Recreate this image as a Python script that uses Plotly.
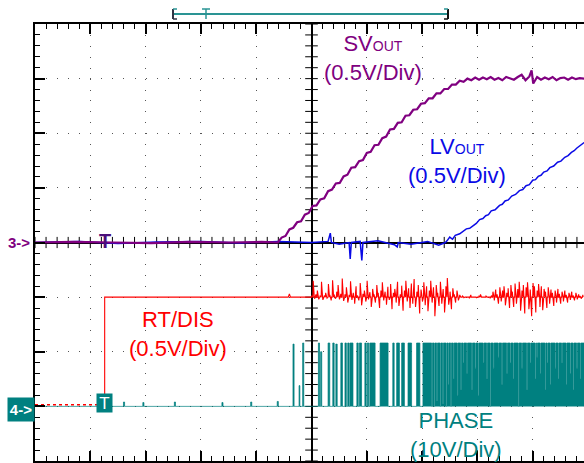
import numpy as np
import plotly.graph_objects as go

# Scope screen in divisions (x: time div, y: vertical div, centre = 0)
trig_t = -3.74

# CH3 - SV_OUT (0.5V/div)
sv_t = [-5.0, -4.3, -3.6, -2.9, -2.2, -1.5, -0.9, -0.61, -0.54, -0.47, -0.40, -0.33, -0.26,
        -0.19, -0.12, -0.05, 0.02, 0.09, 0.16, 0.23, 0.30, 0.37, 0.44, 0.51, 0.58, 0.65,
        0.72, 0.79, 0.86, 0.93, 1.00, 1.07, 1.14, 1.21, 1.28, 1.35, 1.42, 1.49, 1.56, 1.63,
        1.70, 1.77, 1.84, 1.91, 1.98, 2.05, 2.12, 2.19, 2.26, 2.33, 2.40, 2.47, 2.54, 2.61,
        2.68, 2.75, 2.82, 2.89, 2.96, 3.03, 3.10, 3.17, 3.24, 3.31, 3.38, 3.45, 3.52, 3.59,
        3.66, 3.73, 3.80, 3.87, 3.94, 3.98, 4.01, 4.08, 4.15, 4.22, 4.29, 4.36, 4.43, 4.50,
        4.57, 4.64, 4.71, 4.78, 4.85, 4.93]
sv_v = [0.0, 0.01, 0.0, -0.01, 0.01, 0.0, 0.01, 0.0, 0.09, 0.12, 0.24, 0.27, 0.37,
        0.39, 0.51, 0.54, 0.67, 0.68, 0.79, 0.81, 0.94, 0.97, 1.08, 1.09, 1.21, 1.24,
        1.37, 1.38, 1.49, 1.51, 1.64, 1.66, 1.78, 1.79, 1.91, 1.94, 2.07, 2.08, 2.19, 2.20,
        2.32, 2.33, 2.43, 2.44, 2.54, 2.55, 2.64, 2.64, 2.73, 2.73, 2.81, 2.81, 2.89, 2.89,
        2.96, 2.94, 3.00, 2.97, 3.02, 2.98, 3.02, 2.99, 3.03, 2.98, 3.01, 2.97, 3.03, 3.00,
        2.98, 3.03, 3.07, 2.97, 3.04, 3.15, 2.91, 3.03, 2.98, 3.02, 2.99, 3.03, 2.97, 3.01,
        3.02, 2.98, 3.02, 2.99, 3.01, 3.00]

# CH2 - LV_OUT (0.5V/div)
lv_t = [-5.0, -4.2, -3.5, -2.8, -2.0, -1.3, -0.6, 0.0, 0.3, 0.34, 0.36, 0.5, 0.68, 0.70,
        0.72, 0.88, 0.91, 0.93, 1.2, 1.5, 1.55, 1.57, 1.8, 2.1, 2.3, 2.42, 2.45, 2.50, 2.55,
        2.60, 2.68, 2.74, 2.80, 2.86, 2.92, 2.98, 3.04, 3.10, 3.15, 3.20, 3.25, 3.32, 3.40,
        3.45, 3.50, 3.56, 3.62, 3.69, 3.76, 3.82, 3.88, 3.94, 4.00, 4.05, 4.10, 4.15, 4.20,
        4.26, 4.31, 4.38, 4.45, 4.51, 4.58, 4.64, 4.70, 4.75, 4.80, 4.87, 4.93]
lv_v = [0.0, 0.02, -0.02, 0.01, 0.02, -0.01, 0.02, 0.0, 0.02, 0.17, 0.0, -0.03, 0.0, -0.30,
        0.0, 0.02, -0.33, 0.0, 0.03, -0.04, -0.08, 0.0, -0.03, 0.02, -0.05, 0.0, 0.03, 0.10,
        0.06, 0.13, 0.16, 0.20, 0.25, 0.26, 0.31, 0.35, 0.42, 0.44, 0.49, 0.51, 0.58, 0.60,
        0.68, 0.70, 0.76, 0.78, 0.85, 0.88, 0.95, 0.97, 1.04, 1.06, 1.14, 1.15, 1.21, 1.23,
        1.29, 1.31, 1.37, 1.40, 1.47, 1.49, 1.56, 1.59, 1.65, 1.68, 1.73, 1.78, 1.83]

# CH1 - RT/DIS (0.5V/div): step at trigger, then switching spikes around -1 div
rt_t = [-5.0, trig_t, trig_t, -0.42, -0.40, -0.38, 0.0]
rt_v = [-2.97, -2.97, -1.0, -1.0, -0.94, -1.0, -1.0]
rt_level = -1.0
rt_dt = 0.025
rt_spike = [
    # first burst
    0.02, 0.30, -0.03, 0.05, 0.12, -0.04, 0.02, 0.28, -0.05, 0.03, 0.08, -0.02,
    0.24, 0.04, -0.06, 0.31, 0.05, -0.03, 0.10, 0.22, -0.04, 0.06, 0.34, -0.07,
    0.05, 0.18, -0.10, 0.04, 0.29, -0.05, 0.08, -0.12, 0.20, 0.03, -0.06, 0.26,
    -0.15, 0.06, 0.12, -0.08, 0.30, -0.04, 0.09, -0.18, 0.15, 0.05, -0.10, 0.22,
    0.08, -0.20, 0.12, 0.27, -0.06, 0.10, -0.14, 0.19, -0.05, 0.24, -0.22, 0.08,
    0.15, -0.10, 0.28, -0.16, 0.05, 0.21, -0.25, 0.12, 0.30, -0.08, 0.16, -0.20,
    0.25, -0.12, 0.33, -0.18, 0.10, 0.22, -0.30, 0.14, -0.08, 0.27, -0.15, 0.20,
    -0.26, 0.12, 0.30, -0.10, 0.18, -0.35, 0.22, 0.08, -0.16, 0.28, -0.12, 0.15,
    -0.28, 0.20, 0.35, -0.14, 0.10, -0.22, 0.16, 0.05, -0.10, 0.12, -0.06, 0.04,
    # quiet
    0.0, 0.02, -0.01, 0.0, 0.01, 0.0, -0.02, 0.04, 0.0, 0.01, 0.0, -0.01,
    0.0, 0.02, 0.05, 0.0, -0.01, 0.0, 0.02, 0.0, 0.01, -0.02, 0.03,
    # second burst
    0.10, -0.06, 0.14, 0.05, -0.12, 0.18, -0.08, 0.12, 0.20, -0.15, 0.08, 0.16,
    -0.20, 0.22, 0.10, -0.18, 0.25, -0.12, 0.15, 0.28, -0.25, 0.12, 0.22, -0.30,
    0.18, 0.27, -0.22, 0.14, -0.35, 0.26, 0.20, -0.28, 0.12, 0.24, -0.18, 0.20,
    -0.24, 0.15, 0.10, -0.20, 0.18, -0.12, 0.14, 0.08, -0.16, 0.12, -0.10, 0.15,
    0.06, -0.12, 0.10, -0.08, 0.12, 0.04, -0.10, 0.08, -0.05, 0.10, 0.03, -0.06,
    0.08, -0.04, 0.05, 0.02, -0.03, 0.04,
]

# CH4 - PHASE (10V/div): pulses (start, end, top) and drop-outs inside the last burst
phase_low = -3.0
phase_on = [-3.40, -3.05, -2.48, -1.62, -1.10, -0.62, -0.335, -0.225, -0.16, 0.125, 0.165,
            0.30, 0.385, 0.44, 0.53, 0.605, 0.655, 0.695, 0.82, 0.865, 0.965, 1.01, 1.055,
            1.24, 1.47, 1.54, 1.63, 1.745, 1.90, 2.015]
phase_off = [-3.38, -3.03, -2.46, -1.60, -1.08, -0.60, -0.315, -0.21, -0.14, 0.145, 0.185,
             0.33, 0.41, 0.465, 0.56, 0.63, 0.68, 0.75, 0.845, 0.905, 0.99, 1.035, 1.15,
             1.385, 1.495, 1.59, 1.68, 1.81, 1.96, 4.93]
phase_top = [-2.92, -2.93, -2.92, -2.93, -2.92, -2.91, -1.86, -2.62, -1.84, -1.84, -2.0,
             -1.84, -1.84, -1.86, -1.84, -1.84, -1.84, -1.84, -1.84, -1.84, -1.84, -1.84, -1.84,
             -1.84, -1.84, -1.84, -1.84, -1.84, -1.84, -1.84]
phase_gap_t = [2.173, 2.215, 2.264, 2.324, 2.372, 2.432, 2.474, 2.517, 2.565, 2.637, 2.698,
               2.745, 2.807, 2.897, 2.957, 3.016, 3.107, 3.168, 3.228, 3.288, 3.378, 3.439,
               3.530, 3.590, 3.649, 3.740, 3.801, 3.891, 3.951, 4.042, 4.072, 4.132, 4.222,
               4.264, 4.313, 4.403, 4.463, 4.524, 4.602, 4.675, 4.734, 4.795, 4.855]
phase_gap_low = [-3.0, -3.0, -2.9, -3.0, -2.95, -3.0, -2.6, -3.0, -2.5, -2.8, -2.7,
                 -2.2, -2.4, -2.7, -2.3, -2.8, -2.2, -2.5, -3.0, -2.3, -2.1, -2.6,
                 -2.4, -2.2, -2.5, -3.0, -2.3, -2.7, -2.2, -2.5, -2.1, -2.4, -2.7,
                 -2.2, -2.6, -2.3, -2.5, -2.2, -2.6, -2.4, -2.7, -2.3, -2.5]
gap_w = 0.013

PURPLE = "#800080"
BLUE = "#0a0ae6"
RED = "#ff0000"
TEAL = "#008080"
FONT = "Liberation Sans, Arial, sans-serif"

# build phase outline
ph_x, ph_y = [-5.0], [phase_low]
for on, off, top in zip(phase_on, phase_off, phase_top):
    ph_x += [on, on]
    ph_y += [phase_low, top]
    for g, lo in zip(phase_gap_t, phase_gap_low):
        if on < g < off:
            ph_x += [g, g, g + gap_w, g + gap_w]
            ph_y += [top, lo, lo, top]
    ph_x += [off, off]
    ph_y += [top, phase_low]
ph_x.append(4.93)
ph_y.append(phase_low)

# RT/DIS: each spike leaves from and returns to the DC level
rt_x, rt_y = list(rt_t), list(rt_v)
for i, s in enumerate(rt_spike):
    t = rt_t[-1] + i * rt_dt
    rt_x += [t, t + 0.006, t + 0.012]
    rt_y += [rt_level, rt_level + s, rt_level]

fig = go.Figure()

# graticule cross-ticks on the centre lines
ht = np.round(np.arange(-25, 25) * 0.2, 2)
vt = np.round(np.arange(-20, 21) * 0.2, 2)
fig.add_trace(go.Scatter(x=ht, y=np.zeros(len(ht)), mode="markers", hoverinfo="skip",
                         marker=dict(symbol="line-ns", size=8, line=dict(width=1, color="black"))))
fig.add_trace(go.Scatter(x=np.zeros(len(vt)), y=vt, mode="markers", hoverinfo="skip",
                         marker=dict(symbol="line-ew", size=9, line=dict(width=1, color="black"))))

fig.add_trace(go.Scatter(x=ph_x, y=ph_y, mode="lines", fill="toself", fillcolor=TEAL,
                         line=dict(color=TEAL, width=0.7), name="PHASE"))
fig.add_trace(go.Scatter(x=rt_x[:2], y=rt_y[:2], mode="lines",
                         line=dict(color=RED, width=1.5, dash="3px,3px"), name="RT/DIS"))
fig.add_trace(go.Scatter(x=rt_x[1:], y=rt_y[1:], mode="lines",
                         line=dict(color=RED, width=1.1), name="RT/DIS"))
fig.add_trace(go.Scatter(x=lv_t, y=lv_v, mode="lines", line=dict(color=BLUE, width=1.5), name="LV"))
fig.add_trace(go.Scatter(x=sv_t, y=sv_v, mode="lines", line=dict(color=PURPLE, width=2.2), name="SV"))

W, H, L, T, B = 584, 463, 35, 24, 2
PW, PH = W - L, H - T - B


def px(x):
    return (x - L) / PW


def py(y):
    return (H - B - y) / PH


def label(x, y, text, color, size=22):
    fig.add_annotation(x=x, y=y, text=text, showarrow=False, xref="x", yref="y",
                       font=dict(family=FONT, size=size, color=color))


label(1.11, 3.37, "SV<span style='font-size:14px'>OUT</span><br>(0.5V/Div)", PURPLE)
label(2.63, 1.50, "LV<span style='font-size:14px'>OUT</span><br>(0.5V/Div)", BLUE)
label(-2.41, -1.67, "RT/DIS<br>(0.5V/Div)", RED)
label(2.62, -3.52, "PHASE<br>(10V/Div)", TEAL)

# channel ground markers
fig.add_annotation(x=0, xref="paper", y=0, yref="y", text="<b>3-></b>", showarrow=False,
                   xanchor="right", xshift=-3, font=dict(family=FONT, size=15, color=PURPLE))
fig.add_annotation(x=0, xref="paper", y=-3, yref="y", text="<b>4-></b>", showarrow=False,
                   xanchor="right", yshift=-3, width=24, height=21, bgcolor=TEAL,
                   font=dict(family=FONT, size=15, color="white"))
# trigger markers
fig.add_annotation(x=trig_t, y=0, text="<b>T</b>", showarrow=False, yshift=2,
                   font=dict(family=FONT, size=20, color="#4b0f7a"))
fig.add_annotation(x=trig_t, y=-3, text="T", showarrow=False, yshift=3, width=13, height=16,
                   bgcolor=TEAL, font=dict(family=FONT, size=17, color="white"))

# trigger position bar above the screen
bar = "#2a9494"
shapes = [
    dict(x0=173, y0=14, x1=448, y1=14, color=bar, w=2),
    dict(x0=173, y0=9, x1=173, y1=19, color="#334", w=2),
    dict(x0=173, y0=9, x1=177, y1=9, color=bar, w=1.5),
    dict(x0=173, y0=19, x1=177, y1=19, color="#334", w=1.5),
    dict(x0=448, y0=9, x1=448, y1=19, color="#111", w=2),
    dict(x0=444, y0=9, x1=448, y1=9, color=bar, w=1.5),
    dict(x0=444, y0=19, x1=448, y1=19, color="#111", w=1.5),
    dict(x0=206, y0=9, x1=206, y1=19, color=bar, w=1.5),
    dict(x0=202, y0=9, x1=210, y1=9, color=bar, w=1.5),
]
for s in shapes:
    fig.add_shape(type="line", xref="paper", yref="paper", x0=px(s["x0"]), x1=px(s["x1"]),
                  y0=py(s["y0"]), y1=py(s["y1"]), line=dict(color=s["color"], width=s["w"]))

axis_common = dict(
    showticklabels=False, ticks="inside", ticklen=10, tickwidth=1.5, tickcolor="black",
    tick0=0, dtick=1, showline=True, linecolor="black", linewidth=2,
    zeroline=True, zerolinecolor="black", zerolinewidth=2,
    showgrid=True, gridcolor="#555", gridwidth=1,
    minor=dict(tick0=0, dtick=0.2, ticks="inside", ticklen=5, tickwidth=1,
               tickcolor="black", showgrid=False),
)
fig.update_xaxes(range=[-5, -5 + PW / 55.3], mirror="allticks", griddash="1px,9.92px",
                 **axis_common)
fig.update_yaxes(range=[-4, 4], mirror=False, griddash="1px,10.06px", **axis_common)

fig.update_layout(
    width=W, height=H, margin=dict(l=L, r=0, t=T, b=B, pad=0),
    plot_bgcolor="white", paper_bgcolor="white", showlegend=False,
    font=dict(family=FONT),
)

fig.write_html("out.html", config={"displayModeBar": False},
               post_script="document.body.style.margin='0';")
